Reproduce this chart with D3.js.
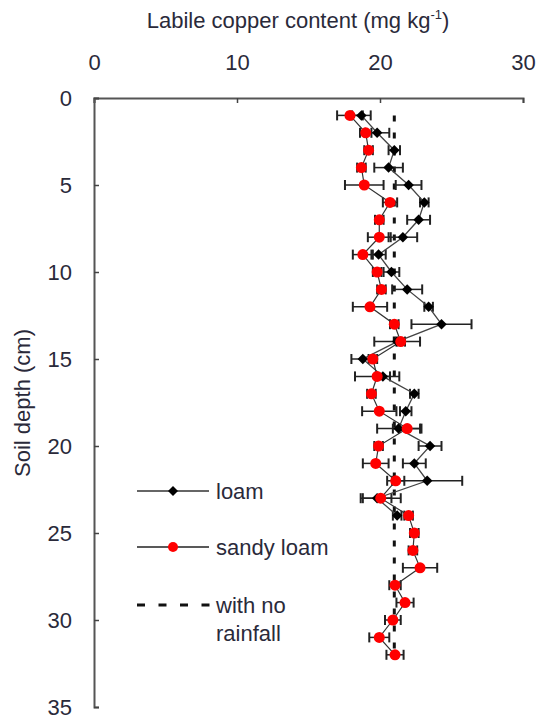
<!DOCTYPE html>
<html><head><meta charset="utf-8">
<script src="https://cdn.jsdelivr.net/npm/d3@7"></script>
<style>body{margin:0;background:#fff;} svg{display:block;} text{font-family:"Liberation Sans",Arial,sans-serif;fill:#2a2a3a;}</style>
</head><body>
<svg id="c" width="540" height="719"></svg>
<script>
const xTicks = [0, 10, 20, 30];
const yTicks = [0, 5, 10, 15, 20, 25, 30, 35];
const loamDepth = [1,2,3,4,5,6,7,8,9,10,11,12,13,14,15,16,17,18,19,20,21,22,23,24];
const loamValue = [18.7,19.8,21.0,20.6,22.0,23.1,22.7,21.6,19.9,20.8,21.9,23.4,24.3,21.2,18.8,20.2,22.4,21.8,21.3,23.5,22.4,23.3,19.8,21.2];
const loamErr   = [0.65,0.85,0.4,1.0,0.9,0.3,0.8,1.0,0.5,0.55,1.05,0.3,2.1,1.6,0.8,0.5,0.3,0.4,1.5,0.8,0.8,2.45,1.0,0.3];
const sandyDepth = [1,2,3,4,5,6,7,8,9,10,11,12,13,14,15,16,17,18,19,20,21,22,23,24,25,26,27,28,29,30,31,32];
const sandyValue = [17.9,19.0,19.2,18.7,18.9,20.7,19.95,19.95,18.8,19.8,20.1,19.3,21.0,21.45,19.5,19.8,19.4,19.95,21.9,19.9,19.7,21.1,20.05,22.0,22.4,22.3,22.8,21.05,21.75,20.9,19.95,21.05];
const sandyErr   = [0.9,0.4,0.3,0.3,1.35,0.5,0.3,0.8,0.7,0.3,0.3,1.2,0.3,0.3,0.3,1.55,0.3,1.2,1.0,0.3,0.9,0.6,1.4,0.3,0.3,0.3,1.2,0.4,0.6,0.55,0.7,0.6];
const noRainValue = 21;
const noRainDepth = [1, 32];
const legendLabels = ["loam", "sandy loam", "with no", "rainfall"];

const FS = 22;
const svg = d3.select("#c");
const x = d3.scaleLinear().domain([0, 30]).range([94, 523]);
const y = d3.scaleLinear().domain([0, 35]).range([98, 707]);

// axes
const xa = svg.append("g").attr("transform", `translate(0,${y(0)})`)
  .call(d3.axisTop(x).tickValues(xTicks).tickSizeInner(-5).tickSizeOuter(-5).tickPadding(28));
const ya = svg.append("g").attr("transform", `translate(${x(0)},0)`)
  .call(d3.axisLeft(y).tickValues(yTicks).tickSizeInner(-5).tickSizeOuter(-5).tickPadding(22));
[xa, ya].forEach(g => {
  g.select(".domain").attr("stroke", "#555").attr("stroke-width", 2);
  g.selectAll(".tick line").attr("stroke", "#444").attr("stroke-width", 1.5);
  g.selectAll(".tick text").attr("font-size", FS).style("font-family", '"Liberation Sans",Arial,sans-serif').attr("fill", "#2a2a3a");
});

// titles
const t = svg.append("text").attr("x", 298).attr("y", 28).attr("text-anchor", "middle").attr("font-size", FS);
t.append("tspan").text("Labile copper content (mg kg");
t.append("tspan").text("-1").attr("font-size", 13).attr("dy", -9);
t.append("tspan").text(")").attr("dy", 9);
svg.append("text").attr("transform", "translate(30,403) rotate(-90)").attr("text-anchor", "middle").attr("font-size", FS).text("Soil depth (cm)");

// no rainfall dashed line
svg.append("line").attr("x1", x(noRainValue)).attr("x2", x(noRainValue))
  .attr("y1", y(noRainDepth[0])).attr("y2", y(noRainDepth[1]))
  .attr("stroke", "#111").attr("stroke-width", 3).attr("stroke-dasharray", "6,11");

function errBars(depth, val, err) {
  const g = svg.append("g").attr("stroke", "#222").attr("stroke-width", 1.5).attr("fill", "none");
  depth.forEach((d, i) => {
    const yy = y(d), x1 = x(val[i] - err[i]), x2 = x(val[i] + err[i]);
    g.append("line").attr("x1", x1).attr("x2", x2).attr("y1", yy).attr("y2", yy);
    g.append("line").attr("x1", x1).attr("x2", x1).attr("y1", yy - 5).attr("y2", yy + 5).attr("stroke-width", 2);
    g.append("line").attr("x1", x2).attr("x2", x2).attr("y1", yy - 5).attr("y2", yy + 5).attr("stroke-width", 2);
  });
}
errBars(loamDepth, loamValue, loamErr);
errBars(sandyDepth, sandyValue, sandyErr);

const line = d3.line().x(d => x(d[1])).y(d => y(d[0]));
svg.append("path").datum(loamDepth.map((d, i) => [d, loamValue[i]])).attr("d", line)
  .attr("fill", "none").attr("stroke", "#444").attr("stroke-width", 1.3);
svg.append("path").datum(sandyDepth.map((d, i) => [d, sandyValue[i]])).attr("d", line)
  .attr("fill", "none").attr("stroke", "#333").attr("stroke-width", 1.2);

svg.append("g").selectAll("path").data(loamDepth).join("path")
  .attr("d", d3.symbol().type(d3.symbolSquare).size(55)).attr("fill", "#000")
  .attr("transform", (d, i) => `translate(${x(loamValue[i])},${y(d)}) rotate(45)`);
svg.append("g").selectAll("circle").data(sandyDepth).join("circle")
  .attr("cx", (d, i) => x(sandyValue[i])).attr("cy", d => y(d)).attr("r", 5.5).attr("fill", "#ff0000");

// legend
const lg = svg.append("g");
lg.append("line").attr("x1", 137).attr("x2", 209).attr("y1", 491).attr("y2", 491).attr("stroke", "#666").attr("stroke-width", 2);
lg.append("path").attr("d", d3.symbol().type(d3.symbolSquare).size(50)).attr("transform", "translate(173,491) rotate(45)").attr("fill", "#000");
lg.append("line").attr("x1", 137).attr("x2", 209).attr("y1", 547).attr("y2", 547).attr("stroke", "#222").attr("stroke-width", 1.3);
lg.append("circle").attr("cx", 173).attr("cy", 547).attr("r", 5).attr("fill", "#ff0000");
lg.append("line").attr("x1", 137).attr("x2", 210).attr("y1", 605).attr("y2", 605).attr("stroke", "#111").attr("stroke-width", 3).attr("stroke-dasharray", "8,13.5");
lg.append("text").attr("x", 216).attr("y", 499).attr("font-size", FS).text(legendLabels[0]);
lg.append("text").attr("x", 216).attr("y", 555).attr("font-size", FS).text(legendLabels[1]);
lg.append("text").attr("x", 216).attr("y", 613).attr("font-size", FS).text(legendLabels[2]);
lg.append("text").attr("x", 216).attr("y", 641).attr("font-size", FS).text(legendLabels[3]);
</script>
</body></html>
